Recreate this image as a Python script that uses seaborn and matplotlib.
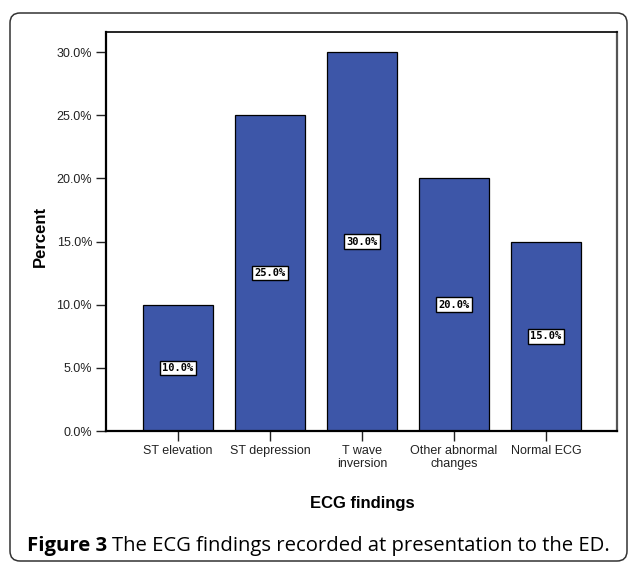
import seaborn as sns
import matplotlib.pyplot as plt
from matplotlib.patches import FancyBboxPatch
from matplotlib.transforms import IdentityTransform

# ECG findings at presentation
categories = ["ST elevation", "ST depression", "T wave\ninversion",
              "Other abnormal\nchanges", "Normal ECG"]
percent = [10.0, 25.0, 30.0, 20.0, 15.0]
y_ticks = [0, 5, 10, 15, 20, 25, 30]

W, H = 629, 562
fig = plt.figure(figsize=(W / 100, H / 100), dpi=100)
fig.patch.set_facecolor("white")

# axes placed in pixel terms
left, right, top, bottom = 106, 617, 32, 431
ax = fig.add_axes([left / W, 1 - bottom / H, (right - left) / W, (bottom - top) / H])

sns.barplot(x=categories, y=percent, color="#3d56a8", saturation=1,
            width=0.76, edgecolor="black", linewidth=0.9, ax=ax)

ax.set_xlim(-0.78, 4.77)
ax.set_ylim(0, 31.6)
ax.set_yticks(y_ticks)
ax.set_yticklabels([f"{v:.1f}%" for v in y_ticks])
ax.tick_params(axis="both", labelsize=9, length=7, width=1, pad=3,
               colors="#222222", labelcolor="#222222")
for lab in ax.get_xticklabels() + ax.get_yticklabels():
    lab.set_fontfamily("Liberation Sans")
for lab in ax.get_xticklabels():
    lab.set_linespacing(1.15)

ax.spines["left"].set_linewidth(1.6)
ax.spines["bottom"].set_linewidth(1.6)
ax.spines["top"].set_linewidth(1.2)
ax.spines["right"].set_linewidth(1.6)
ax.spines["right"].set_color("#555555")
ax.set_xlabel("")
ax.set_ylabel("")

# value labels in the middle of each bar
for i, v in enumerate(percent):
    ax.text(i, v / 2, f"{v:.1f}%", ha="center", va="center", fontsize=7.5,
            family="DejaVu Sans Mono", fontweight="bold", color="black",
            bbox=dict(boxstyle="square,pad=0.22", facecolor="white",
                      edgecolor="black", linewidth=1))

fig.text(40 / W, 1 - 236 / H, "Percent", rotation=90, ha="center", va="center",
         fontsize=12, fontweight="bold", family="Liberation Sans")
fig.text(362 / W, 1 - 508 / H, "ECG findings", ha="center", va="baseline",
         fontsize=12, fontweight="bold", family="Liberation Sans")

# rounded frame around the figure
frame = FancyBboxPatch((10, H - 561), 617, 548,
                       boxstyle="round,pad=0,rounding_size=10",
                       transform=IdentityTransform(), facecolor="none",
                       edgecolor="#333333", linewidth=1.1)
fig.patches.append(frame)

# caption: bold lead-in followed by regular text, scaled to fit
cap_y = 1 - 551 / H
fs = 13
t1 = fig.text(27 / W, cap_y, "Figure 3", fontsize=fs, fontweight="bold",
              family="Open Sans", va="baseline")
fig.canvas.draw()
r = fig.canvas.get_renderer()
w1 = t1.get_window_extent(r).width
t2 = fig.text((27 + w1 + 4) / W, cap_y, "The ECG findings recorded at presentation to the ED.",
              fontsize=fs, family="Open Sans", va="baseline")
fig.canvas.draw()
w2 = t2.get_window_extent(r).width
scale = 580 / (w1 + 4 + w2)
fs2 = fs * scale
t1.set_fontsize(fs2)
fig.canvas.draw()
w1 = t1.get_window_extent(r).width
t2.set_fontsize(fs2)
t2.set_x((27 + w1 + 4 * scale) / W)

fig.savefig("out.png", dpi=100)
